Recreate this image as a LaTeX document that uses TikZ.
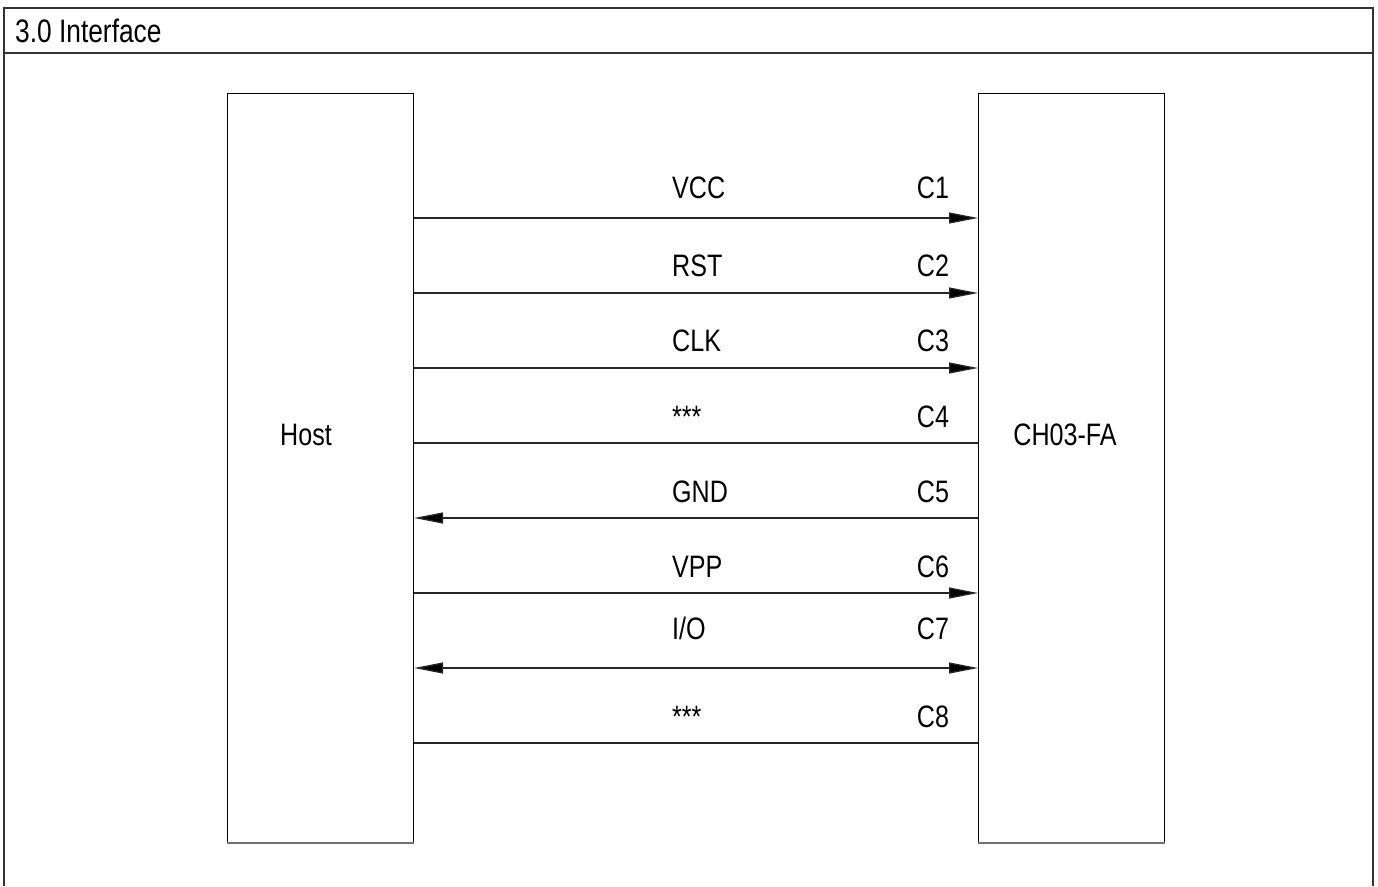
\documentclass[tikz,border=0pt]{standalone}
\usepackage{fontspec}
\setmainfont{Liberation Sans}[FakeStretch=0.81]
\usetikzlibrary{arrows.meta}

\tikzset{
  unit/.style={draw, line width=1.1pt, minimum width=186pt, minimum height=749pt,
    inner sep=0pt, anchor=north west},
  pin/.style={font=\fontsize{31}{37}\selectfont, anchor=base, inner sep=0pt},
  wire/.style={line width=1.3pt, draw=black!85},
  tip/.tip={Triangle[length=29pt,width=11pt,fill=black]}
}

\begin{document}
\begin{tikzpicture}[x=1pt,y=-1pt]
    \useasboundingbox (0,0) rectangle (1378,886);
    % frame
    \draw[line width=2pt, draw=black!80] (4,886) -- (4,8) -- (1373,8) -- (1373,886);
    \draw[line width=2pt, draw=black!80] (4,53) -- (1373,53);
    \node[pin, anchor=base west, font=\fontsize{32.5}{38}\selectfont] (title) at (15,42) {3.0 Interface};

    % the two sides
    \node[unit] (host) at (227,93) {};
    \node[unit] (card) at (978,93) {};
    \draw[line width=2pt, black!55] (host.south west) -- (host.south east);
    \draw[line width=2pt, black!55] (card.south west) -- (card.south east);
    \node[pin] (hostname) at (306,445) {Host};
    \node[pin] (cardname) at (1065,445) {CH03-FA};

    % signals
    \foreach \y\b\s\c\a in {
        218/198/VCC/C1/-tip,
        293/276/RST/C2/-tip,
        368/351/CLK/C3/-tip,
        443/427/***/C4/-,
        518/502/GND/C5/tip-,
        593/577/VPP/C6/-tip,
        668/639/I\slash O/C7/tip-tip,
        743/727/***/C8/-}{
      \node[pin, anchor=base west] (name\c) at (672,\b) {\s};
      \node[pin] (pin\c) at (933,\b) {\c};
      \draw[wire, \a] (host.east |- 0,\y) -- (card.west |- 0,\y);
    }
  \end{tikzpicture}
\end{document}
